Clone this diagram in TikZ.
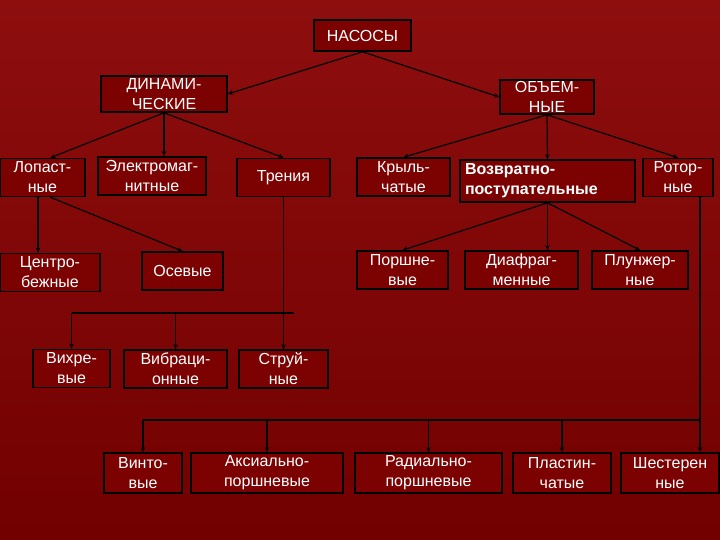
\documentclass[tikz,border=0pt]{standalone}
\usepackage{fontspec}
\setmainfont{Liberation Sans}
\usetikzlibrary{arrows.meta}
\definecolor{bgtop}{RGB}{142,14,14}
\definecolor{bgbot}{RGB}{114,0,0}
\definecolor{boxred}{RGB}{124,2,2}

\begin{document}
\begin{tikzpicture}[x=1pt, y=-1pt,
  every node/.style={font=\fontsize{16}{20}\selectfont, text=white},
  box/.style={draw=black, fill=boxred, line width=1.6pt, align=center,
              inner sep=1pt, minimum height=38pt},
  arr/.style={black, line width=1.2pt, -{Stealth[length=5pt,width=4.5pt]}},
  bus/.style={black, line width=1.2pt}]
\useasboundingbox (0,0) rectangle (720,540);
\fill[top color=bgtop, bottom color=bgbot] (0,0) rectangle (720,540);

% top levels
\node[box, minimum width=97pt, minimum height=31pt] (nasosy) at (362.5,35.5) {НАСОСЫ};
\node[box, minimum width=126pt, minimum height=36pt] (dinam) at (164,94) {ДИНАМИ-\\ЧЕСКИЕ};
\node[box, minimum width=94pt, minimum height=34pt] (obem) at (547,97) {ОБЪЕМ-\\НЫЕ};

% second row
\node[box, minimum width=85pt] (lopast) at (42.5,177.5) {Лопаст-\\ные};
\node[box, minimum width=108pt] (elektro) at (152,176) {Электромаг-\\нитные};
\node[box, minimum width=93pt] (trenia) at (283.5,177.5) {Трения};
\node[box, minimum width=93pt] (krylch) at (403.5,177) {Крыль-\\чатые};
\node[box, minimum height=42pt, text width=165pt, inner xsep=5pt, align=left,
      font=\fontsize{16}{20}\selectfont\bfseries] (vozvr) at (547.5,181) {Возвратно-\\поступательные};
\node[box, minimum width=70pt] (rotor) at (678,177.5) {Ротор-\\ные};

% third row
\node[box, minimum width=100pt] (centro) at (50,272.5) {Центро-\\бежные};
\node[box, minimum width=81pt] (osev) at (182.5,271) {Осевые};
\node[box, minimum width=91pt] (porsh) at (402.5,270) {Поршне-\\вые};
\node[box, minimum width=113pt] (diafr) at (521.5,270) {Диафраг-\\менные};
\node[box, minimum width=96pt] (plunzh) at (640,270) {Плунжер-\\ные};

% fourth row
\node[box, minimum width=77pt] (vihr) at (71.5,368.5) {Вихре-\\вые};
\node[box, minimum width=103pt] (vibr) at (175.5,369) {Вибраци-\\онные};
\node[box, minimum width=89pt] (strui) at (283.5,369) {Струй-\\ные};

% bottom row
\node[box, minimum width=78pt, minimum height=40pt] (vinto) at (143,473) {Винто-\\вые};
\node[box, minimum width=152pt, minimum height=40pt] (aksial) at (267,473) {Аксиально-\\поршневые};
\node[box, minimum width=147pt, minimum height=40pt] (radial) at (428.5,473) {Радиально-\\поршневые};
\node[box, minimum width=98pt, minimum height=40pt] (plastin) at (562,473) {Пластин-\\чатые};
\node[box, minimum width=98pt, minimum height=40pt] (shest) at (670,473) {Шестерен\\ные};

% connectors
\draw[arr] (nasosy.south) -- (dinam.east);
\draw[arr] (nasosy.south) -- (obem.west);
\draw[arr] (dinam.south) -- ([xshift=8pt]lopast.north);
\draw[arr] (dinam.south) -- (dinam.south |- elektro.north);
\draw[arr] (dinam.south) -- (trenia.north);
\draw[arr] (obem.south) -- (krylch.north);
\draw[arr] (obem.south) -- (vozvr.north);
\draw[arr] (obem.south) -- (rotor.north);
\draw[arr] ([xshift=-4.5pt]lopast.south) -- ([xshift=-4.5pt]lopast.south |- centro.north);
\draw[arr] ([xshift=8pt]lopast.south) -- (osev.north);
\draw[arr] (vozvr.south) -- (porsh.north);
\draw[arr] (vozvr.south) -- (vozvr.south |- diafr.north);
\draw[arr] (vozvr.south) -- (plunzh.north);

% friction branch
\coordinate (busA) at (0,313);
\draw[arr] (trenia.south) -- (trenia.south |- strui.north);
\draw[bus] (vihr.north |- busA) -- ([xshift=10pt]trenia.south |- busA);
\draw[arr] (vihr.north |- busA) -- (vihr.north);
\draw[arr] (vibr.north |- busA) -- (vibr.north);

% rotor branch
\coordinate (busB) at (0,420);
\coordinate (rotdrop) at ([xshift=22pt]rotor.south);
\draw[arr] (rotdrop) -- (rotdrop |- shest.north);
\draw[bus] (vinto.north |- busB) -- (rotdrop |- busB);
\draw[arr] (vinto.north |- busB) -- (vinto.north);
\draw[arr] (aksial.north |- busB) -- (aksial.north);
\draw[arr] (radial.north |- busB) -- (radial.north);
\draw[arr] (plastin.north |- busB) -- (plastin.north);
\end{tikzpicture}
\end{document}
